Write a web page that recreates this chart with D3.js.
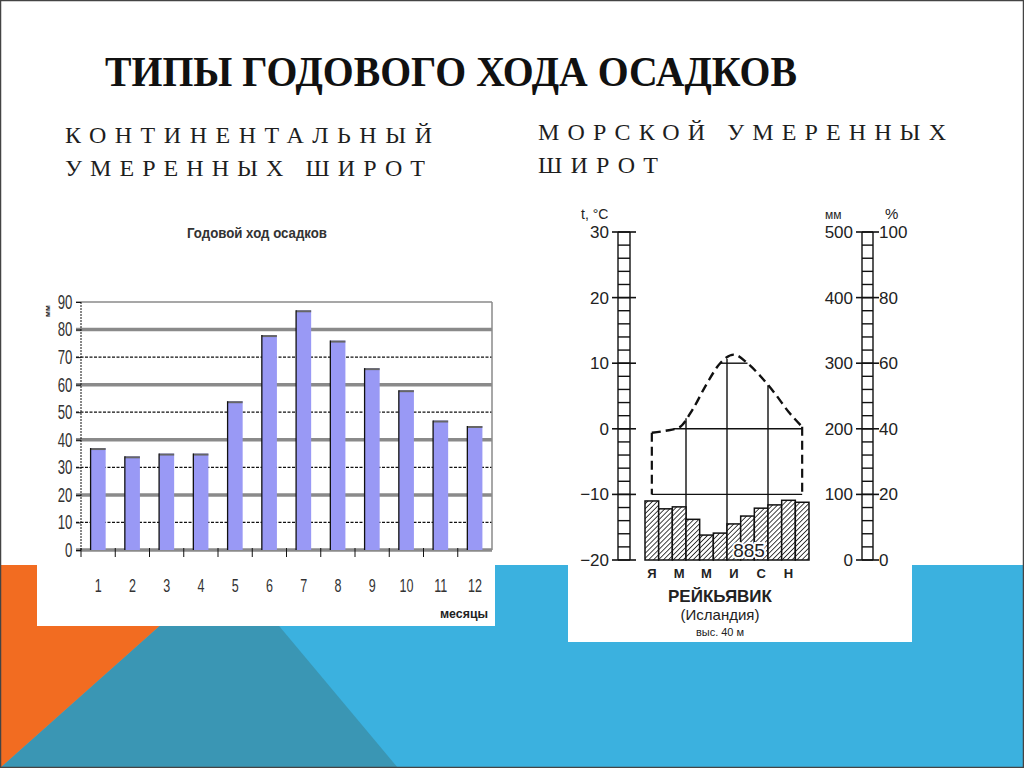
<!DOCTYPE html>
<html lang="ru">
<head>
<meta charset="utf-8">
<title>Типы годового хода осадков</title>
<script src="https://cdn.jsdelivr.net/npm/d3@7/dist/d3.min.js"></script>
<style>
  html, body { margin: 0; padding: 0; background: #fff; }
  svg { display: block; }
</style>
</head>
<body>
<script>
"use strict";

/* global d3 */

// continental chart: monthly precipitation, mm
var months = [1, 2, 3, 4, 5, 6, 7, 8, 9, 10, 11, 12];
var precipitation = [37, 34, 35, 35, 54, 78, 87, 76, 66, 58, 47, 45];
var precipTicks = [0, 10, 20, 30, 40, 50, 60, 70, 80, 90];

// marine chart: Reykjavik
var monthLetters = ["Я", "Ф", "М", "А", "М", "И", "И", "А", "С", "О", "Н", "Д"];
var reykPrecip = [90, 78, 81, 62, 38, 41, 55, 67, 79, 84, 91, 88];
var reykTemp = [-0.6, -0.3, 0.2, 3.0, 6.8, 10.0, 11.3, 10.0, 7.9, 5.4, 2.6, 0.3];
var tempTicks = [-20, -10, 0, 10, 20, 30];
var mmTicks = [0, 100, 200, 300, 400, 500];
var pctTicks = [0, 20, 40, 60, 80, 100];
var isotherms = [-10, 0, 10];
var quarterBounds = [3, 6, 9];
var annualTotal = "885";

var SERIF = "'Liberation Serif', 'DejaVu Serif', serif";
var NARROW = "'Liberation Sans Narrow', 'Liberation Sans', 'DejaVu Sans', sans-serif";
var SANS = "'Liberation Sans', Arial, sans-serif";

var svg = d3.select("body").append("svg")
    .attr("width", 1024)
    .attr("height", 768);

// ---- slide background ----
svg.append("rect").attr("width", 1024).attr("height", 768).attr("fill", "#fff");
svg.append("rect").attr("x", 0).attr("y", 565).attr("width", 1024).attr("height", 203).attr("fill", "#3bb1df");
svg.append("path").attr("d", "M228,565L398,768L0,768Z").attr("fill", "#3a96b4");
svg.append("path").attr("d", "M0,565L228,565L0,768Z").attr("fill", "#f26c21");

// white cards behind the two pictures
svg.append("rect").attr("x", 37).attr("y", 190).attr("width", 458).attr("height", 436).attr("fill", "#fff");
svg.append("rect").attr("x", 568).attr("y", 190).attr("width", 344).attr("height", 452).attr("fill", "#fff");

svg.append("rect").attr("x", 0.5).attr("y", 0.5).attr("width", 1023).attr("height", 767)
    .attr("fill", "none").attr("stroke", "#444").attr("stroke-width", 1.5);

// ---- headings ----
svg.append("text")
    .attr("x", 105).attr("y", 86)
    .attr("textLength", 692).attr("lengthAdjust", "spacingAndGlyphs")
    .attr("font-family", SERIF).attr("font-size", 43).attr("font-weight", "bold").attr("fill", "#111")
    .text("ТИПЫ ГОДОВОГО ХОДА ОСАДКОВ");

var subtitles = [
    { text: "КОНТИНЕНТАЛЬНЫЙ", x: 65, y: 143, w: 367 },
    { text: "УМЕРЕННЫХ ШИРОТ", x: 65, y: 176, w: 360 },
    { text: "МОРСКОЙ УМЕРЕННЫХ", x: 538, y: 140, w: 408 },
    { text: "ШИРОТ", x: 538, y: 173, w: 120 }
];
svg.selectAll("text.sub").data(subtitles).enter().append("text")
    .attr("class", "sub")
    .attr("x", function (d) { return d.x; })
    .attr("y", function (d) { return d.y; })
    .attr("textLength", function (d) { return d.w; })
    .attr("lengthAdjust", "spacing")
    .attr("font-family", SERIF).attr("font-size", 24).attr("fill", "#1e1e1e")
    .text(function (d) { return d.text; });

// ---- left chart: continental precipitation ----
var x = d3.scaleBand().domain(months).range([81, 492]).paddingInner(0.56).paddingOuter(0.28);
var y = d3.scaleLinear().domain([0, 90]).range([550, 302]);

var left = svg.append("g");

left.append("text")
    .attr("x", 187).attr("y", 238)
    .attr("textLength", 140).attr("lengthAdjust", "spacingAndGlyphs")
    .attr("font-family", NARROW).attr("font-size", 15).attr("font-weight", "bold").attr("fill", "#333")
    .text("Годовой ход осадков");

left.selectAll("line.grid").data(precipTicks).enter().append("line")
    .attr("class", "grid")
    .attr("x1", 76).attr("x2", 492)
    .attr("y1", function (d) { return y(d); })
    .attr("y2", function (d) { return y(d); })
    .attr("stroke", function (d) { return (d % 20 === 0 || d === 90) ? "#8a8a8a" : "#111"; })
    .attr("stroke-width", function (d) { return d === 90 ? 1.5 : (d % 20 === 0 ? 3.5 : 1.2); })
    .attr("stroke-dasharray", function (d) { return (d % 20 === 0 || d === 90) ? null : "3,1.5"; });

left.append("line")
    .attr("x1", 492).attr("x2", 492).attr("y1", y(90)).attr("y2", y(0))
    .attr("stroke", "#8a8a8a").attr("stroke-width", 1.5);

left.append("line")
    .attr("x1", 81).attr("x2", 81).attr("y1", y(90)).attr("y2", y(0))
    .attr("stroke", "#111").attr("stroke-width", 1).attr("stroke-dasharray", "2,1");

// condensed look of the old spreadsheet labels
var squeeze = "scale(0.66,1)";

var gy = left.append("g")
    .attr("transform", "translate(81,0)")
    .call(d3.axisLeft(y).tickValues(precipTicks).tickSize(5).tickPadding(8));
gy.attr("font-family", NARROW).attr("font-size", 20);
gy.select(".domain").remove();
gy.selectAll("line").attr("stroke", "#111");
gy.selectAll("text").attr("transform", squeeze).attr("fill", "#333");

left.append("text")
    .attr("transform", "translate(50,311) rotate(-90)")
    .attr("text-anchor", "middle")
    .attr("font-family", NARROW).attr("font-size", 8).attr("font-weight", "bold").attr("fill", "#222")
    .text("мм");

// bars
var bars = left.selectAll("g.bar").data(months).enter().append("g").attr("class", "bar");
bars.append("rect")
    .attr("x", function (d) { return x(d); })
    .attr("y", function (d, i) { return y(precipitation[i]); })
    .attr("width", x.bandwidth())
    .attr("height", function (d, i) { return y(0) - y(precipitation[i]); })
    .attr("fill", "#9999f5");
bars.append("line")
    .attr("x1", function (d) { return x(d); })
    .attr("x2", function (d) { return x(d) + x.bandwidth(); })
    .attr("y1", function (d, i) { return y(precipitation[i]) + 1; })
    .attr("y2", function (d, i) { return y(precipitation[i]) + 1; })
    .attr("stroke", "#666").attr("stroke-width", 2);
bars.append("line")
    .attr("x1", function (d) { return x(d); })
    .attr("x2", function (d) { return x(d); })
    .attr("y1", function (d, i) { return y(precipitation[i]); })
    .attr("y2", y(0))
    .attr("stroke", "#111").attr("stroke-width", 1.3);

// x ticks sit between the bars
left.selectAll("line.xtick").data(months).enter().append("line")
    .attr("class", "xtick")
    .attr("x1", function (d) { return x(d) - x.step() * 0.28; })
    .attr("x2", function (d) { return x(d) - x.step() * 0.28; })
    .attr("y1", y(0) - 2).attr("y2", y(0) + 7)
    .attr("stroke", "#111").attr("stroke-width", 1);

var gx = left.append("g")
    .attr("transform", "translate(0," + y(0) + ")")
    .call(d3.axisBottom(x).tickSize(0).tickPadding(29));
gx.attr("font-family", NARROW).attr("font-size", 19);
gx.select(".domain").remove();
gx.selectAll("text").attr("transform", squeeze).attr("fill", "#333");

left.append("text")
    .attr("x", 440).attr("y", 618)
    .attr("textLength", 48).attr("lengthAdjust", "spacingAndGlyphs")
    .attr("font-family", NARROW).attr("font-size", 12).attr("font-weight", "bold").attr("fill", "#222")
    .text("месяцы");

// ---- right chart: Reykjavik climatogram ----
var right = svg.append("g").attr("font-family", SANS).attr("fill", "#222");
var tY = d3.scaleLinear().domain([-20, 30]).range([560, 232]);
var pY = d3.scaleLinear().domain([0, 500]).range([560, 232]);
var pctY = d3.scaleLinear().domain([0, 100]).range([560, 232]);
var mX = d3.scaleBand().domain(d3.range(12)).range([645, 809]);

function ladder(scale, domain, step, x0, x1) {
    var g = right.append("g");
    g.append("line").attr("x1", x0).attr("x2", x0).attr("y1", scale(domain[1])).attr("y2", scale(domain[0]));
    g.append("line").attr("x1", x1).attr("x2", x1).attr("y1", scale(domain[1])).attr("y2", scale(domain[0]));
    g.selectAll("line.rung").data(d3.range(domain[0], domain[1] + step / 2, step)).enter().append("line")
        .attr("class", "rung")
        .attr("x1", x0).attr("x2", x1)
        .attr("y1", function (d) { return scale(d); })
        .attr("y2", function (d) { return scale(d); });
    g.selectAll("line").attr("stroke", "#111").attr("stroke-width", 1.4);
    return g;
}

var tLadder = ladder(tY, [-20, 30], 2, 618, 630);
tLadder.selectAll("line.major").data(tempTicks).enter().append("line")
    .attr("x1", 612).attr("x2", 636)
    .attr("y1", function (d) { return tY(d); })
    .attr("y2", function (d) { return tY(d); })
    .attr("stroke", "#111").attr("stroke-width", 1.6);

var pLadder = ladder(pY, [0, 500], 20, 862, 873);
pLadder.selectAll("line.major").data(mmTicks).enter().append("line")
    .attr("x1", 856).attr("x2", 879)
    .attr("y1", function (d) { return pY(d); })
    .attr("y2", function (d) { return pY(d); })
    .attr("stroke", "#111").attr("stroke-width", 1.6);

function plainAxis(axis, tx) {
    var g = right.append("g").attr("transform", "translate(" + tx + ",0)").call(axis);
    g.attr("font-family", SANS).attr("font-size", 17);
    g.select(".domain").remove();
    g.selectAll("line").remove();
    g.selectAll("text").attr("fill", "#222");
    return g;
}
plainAxis(d3.axisLeft(tY).tickValues(tempTicks).tickSize(0).tickPadding(0)
    .tickFormat(function (d) { return d < 0 ? "\u2212" + Math.abs(d) : d; }), 609);
plainAxis(d3.axisLeft(pY).tickValues(mmTicks).tickSize(0).tickPadding(0), 853);
plainAxis(d3.axisRight(pctY).tickValues(pctTicks).tickSize(0).tickPadding(0), 879);

right.append("text").attr("x", 581).attr("y", 219).attr("font-size", 14).text("t, °C");
right.append("text").attr("x", 825).attr("y", 219).attr("font-size", 12).text("мм");
right.append("text").attr("x", 885).attr("y", 219).attr("font-size", 15).text("%");

// hatch for precipitation bars
var defs = svg.append("defs");
var hatch = defs.append("pattern").attr("id", "hatch")
    .attr("patternUnits", "userSpaceOnUse").attr("width", 3.5).attr("height", 3.5)
    .attr("patternTransform", "rotate(45)");
hatch.append("rect").attr("width", 3.5).attr("height", 3.5).attr("fill", "#fff");
hatch.append("line").attr("x1", 0).attr("y1", 0).attr("x2", 0).attr("y2", 3.5)
    .attr("stroke", "#222").attr("stroke-width", 1.7);

function mid(i) { return mX(i) + mX.bandwidth() / 2; }

// where the temperature curve sits at a given month position (fractional)
function tempAt(pos) {
    var i = Math.floor(pos), f = pos - i;
    if (i >= reykTemp.length - 1) { return reykTemp[reykTemp.length - 1]; }
    return reykTemp[i] + (reykTemp[i + 1] - reykTemp[i]) * f;
}

// isotherm segments: from first to last point where the curve reaches the level
isotherms.forEach(function (lv) {
    var x0 = null, x1 = null;
    reykTemp.forEach(function (t, i) {
        if (t >= lv) {
            if (x0 === null) {
                if (i === 0) { x0 = mid(0); }
                else {
                    var f = (lv - reykTemp[i - 1]) / (t - reykTemp[i - 1]);
                    x0 = mid(i - 1) + f * mX.step();
                }
            }
            x1 = mid(i);
        }
    });
    right.append("line")
        .attr("x1", x0).attr("x2", x1)
        .attr("y1", tY(lv)).attr("y2", tY(lv))
        .attr("stroke", "#111").attr("stroke-width", 1.4);
});

// quarter verticals from the curve down into the bars
right.selectAll("line.quarter").data(quarterBounds).enter().append("line")
    .attr("x1", function (d) { return mX(d); })
    .attr("x2", function (d) { return mX(d); })
    .attr("y1", function (d) { return tY(tempAt(d - 0.5)); })
    .attr("y2", pY(0))
    .attr("stroke", "#111").attr("stroke-width", 1.4);

right.selectAll("rect.pbar").data(reykPrecip).enter().append("rect")
    .attr("class", "pbar")
    .attr("x", function (d, i) { return mX(i); })
    .attr("y", function (d) { return pY(d); })
    .attr("width", mX.bandwidth())
    .attr("height", function (d) { return pY(0) - pY(d); })
    .attr("fill", "url(#hatch)")
    .attr("stroke", "#111").attr("stroke-width", 1.5);

// dashed temperature curve with its drop lines to -10
var tLine = d3.line()
    .x(function (d, i) { return mid(i); })
    .y(function (d) { return tY(d); })
    .curve(d3.curveMonotoneX);
right.append("path").datum(reykTemp)
    .attr("d", tLine)
    .attr("fill", "none").attr("stroke", "#111").attr("stroke-width", 2.4)
    .attr("stroke-dasharray", "9,5");
[0, reykTemp.length - 1].forEach(function (i) {
    right.append("line")
        .attr("x1", mid(i)).attr("x2", mid(i))
        .attr("y1", tY(reykTemp[i])).attr("y2", tY(-10))
        .attr("stroke", "#111").attr("stroke-width", 2.2)
        .attr("stroke-dasharray", "9,5");
});

right.append("text")
    .attr("x", 749).attr("y", 557).attr("text-anchor", "middle")
    .attr("font-size", 19)
    .attr("stroke", "#fff").attr("stroke-width", 4).attr("paint-order", "stroke")
    .text(annualTotal);

// only every other month is lettered
right.selectAll("text.mlabel").data(monthLetters.map(function (m, i) { return { m: m, i: i }; })
        .filter(function (d) { return d.i % 2 === 0; }))
    .enter().append("text")
    .attr("class", "mlabel")
    .attr("x", function (d) { return mid(d.i); })
    .attr("y", 578).attr("text-anchor", "middle")
    .attr("font-size", 13).attr("font-weight", "bold")
    .text(function (d) { return d.m; });

right.append("text").attr("x", 720).attr("y", 602).attr("text-anchor", "middle")
    .attr("font-size", 17).attr("font-weight", "bold").text("РЕЙКЬЯВИК");
right.append("text").attr("x", 720).attr("y", 620).attr("text-anchor", "middle")
    .attr("font-size", 15).text("(Исландия)");
right.append("text").attr("x", 720).attr("y", 636).attr("text-anchor", "middle")
    .attr("font-size", 11).text("выс. 40 м");
</script>
</body>
</html>
